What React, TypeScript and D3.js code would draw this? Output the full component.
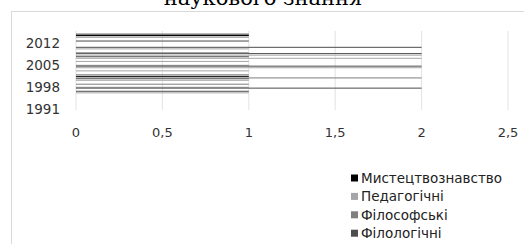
import * as React from 'react';
import * as d3 from 'd3';

// years on the category axis (bottom to top)
const years = d3.range(1991, 2016).map(String);
const yearLabels = ['1991', '1998', '2005', '2012'];
const xTicks = [0, 0.5, 1, 1.5, 2, 2.5];

const seriesNames = ['Філологічні', 'Філософські', 'Педагогічні', 'Мистецтвознавство'];
const seriesColors = ['#4d4d4d', '#7f7f7f', '#a5a5a5', '#000000'];

// values per year, 1991..2015
const filologichni = [0, 0, 0, 0, 0, 0, 1, 2, 0, 0, 1, 0, 0, 0, 2, 0, 0, 1, 2, 0, 2, 0, 1, 0, 1];
const filosofski = [0, 0, 0, 0, 0, 0, 0, 1, 1, 0, 2, 1, 0, 0, 1, 0, 0, 0, 1, 0, 0, 0, 0, 1, 1];
const pedagogichni = [0, 0, 0, 0, 0, 1, 0, 0, 0, 1, 0, 0, 1, 2, 0, 1, 2, 2, 0, 1, 0, 0, 0, 0, 0];
const mystetstvo = [0, 0, 0, 0, 0, 0, 0, 0, 0, 0, 1, 0, 0, 0, 0, 0, 0, 0, 0, 0, 0, 0, 0, 1, 0];

const seriesValues = [filologichni, filosofski, pedagogichni, mystetstvo];

const textFont = '"DejaVu Sans", sans-serif';

export default function App() {
  const width = 524;
  const height = 244;

  const x = d3.scaleLinear().domain([0, 2.5]).range([76, 508]);
  const y = d3.scaleBand<string>().domain(years).range([110.5, 32]).paddingInner(0);
  const ys = d3.scaleBand<number>().domain([3, 2, 1, 0]).range([0, y.bandwidth()]);

  return (
    <svg width={width} height={height} style={{ position: 'absolute', left: 0, top: 0, background: '#fff' }}>
      <rect x={11.5} y={11.5} width={width} height={height} fill="#fff" stroke="#d9d9d9" />
      <text x={263} y={5} textAnchor="middle" fontFamily='"DejaVu Serif", serif' fontSize={21} fill="#000">
        наукового знання
      </text>

      {xTicks.map(t => (
        <line key={'g' + t} x1={x(t)} x2={x(t)} y1={31} y2={110} stroke="#e3e3e3" strokeWidth={1} />
      ))}

      {seriesValues.map((vals, si) => (
        <g key={seriesNames[si]} fill={seriesColors[si]}>
          {vals.map((v, i) =>
            v > 0 ? (
              <rect
                key={years[i]}
                x={x(0)}
                y={y(years[i])! + ys(si)! + ys.bandwidth() / 2 - 0.5}
                width={x(v) - x(0)}
                height={1}
              />
            ) : null
          )}
        </g>
      ))}

      {yearLabels.map(l => (
        <text key={l} x={60} y={y(l)! + y.bandwidth() / 2} dy="0.35em" textAnchor="end"
          fontFamily={textFont} fontSize={13.5} fill="#333">
          {l}
        </text>
      ))}

      {xTicks.map(t => (
        <text key={'t' + t} x={x(t)} y={132} dy="0.35em" textAnchor="middle"
          fontFamily={textFont} fontSize={13} fill="#333">
          {String(t).replace('.', ',')}
        </text>
      ))}

      {seriesNames.slice().reverse().map((name, i) => {
        const si = seriesNames.indexOf(name);
        const cy = 178 + i * 18.4;
        return (
          <g key={'l' + name}>
            <rect x={351} y={cy - 3.5} width={7} height={7} fill={seriesColors[si]} />
            <text x={361} y={cy} dy="0.35em" fontFamily={textFont} fontSize={13.5} fill="#222">
              {name}
            </text>
          </g>
        );
      })}
    </svg>
  );
}
